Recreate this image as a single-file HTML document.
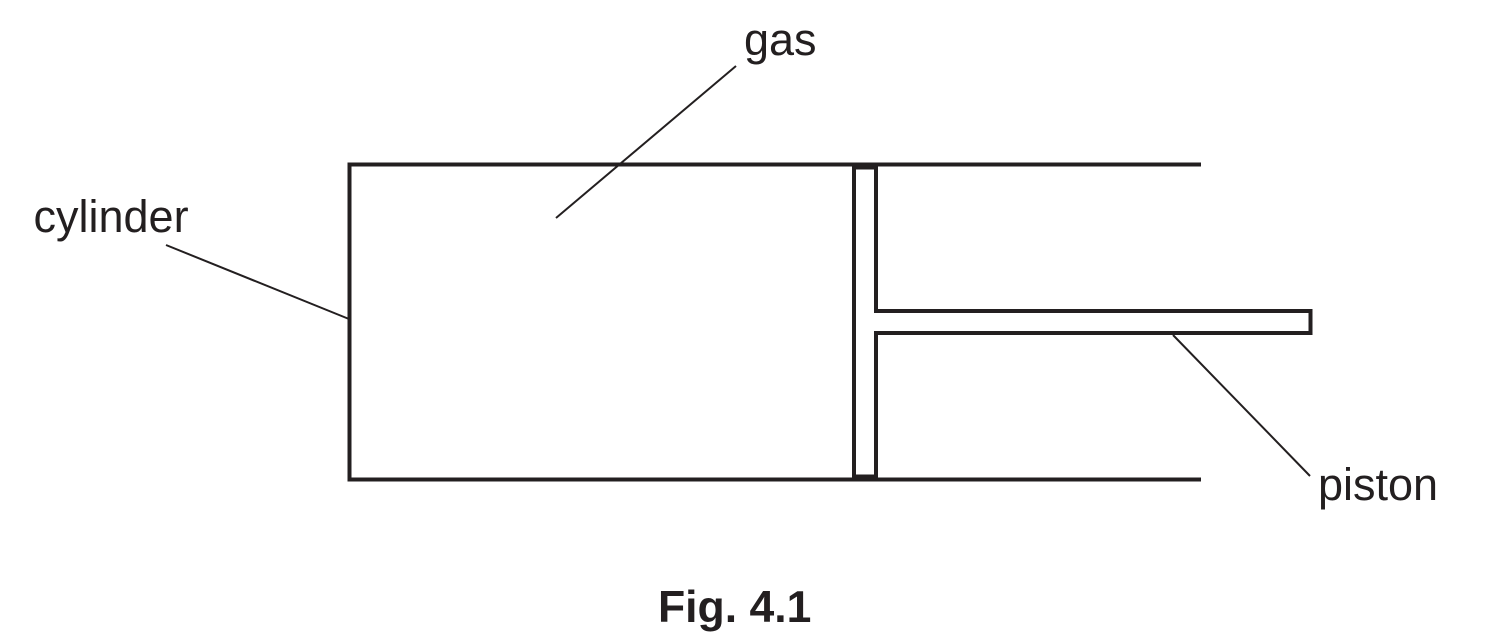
<!DOCTYPE html>
<html>
<head>
<meta charset="utf-8">
<style>
html,body{margin:0;padding:0;background:#fff;}
svg{display:block;}
text{font-family:"Liberation Sans",sans-serif;fill:#231f20;}
</style>
</head>
<body>
<svg width="1506" height="641" viewBox="0 0 1506 641" xmlns="http://www.w3.org/2000/svg">
<rect width="1506" height="641" fill="#fff"/>
<g fill="none" stroke="#231f20" stroke-width="4">
<path d="M1201 164.5H349.5V479.5H1201"/>
<path d="M854 164.5V479.5"/>
<path d="M876 164.5V311H1310.5V333H876V479.5"/>
<path d="M852 167H878M852 477H878" stroke-width="5"/>
</g>
<g fill="none" stroke="#231f20" stroke-width="2">
<path d="M736 66L556 218"/>
<path d="M166 245L349 319"/>
<path d="M1173 335L1310 476"/>
</g>
<text x="744" y="55" font-size="45">gas</text>
<text x="33.5" y="232" font-size="45">cylinder</text>
<text x="1318" y="500" font-size="45">piston</text>
<text x="658" y="622" font-size="44.5" font-weight="bold">Fig. 4.1</text>
</svg>
</body>
</html>
